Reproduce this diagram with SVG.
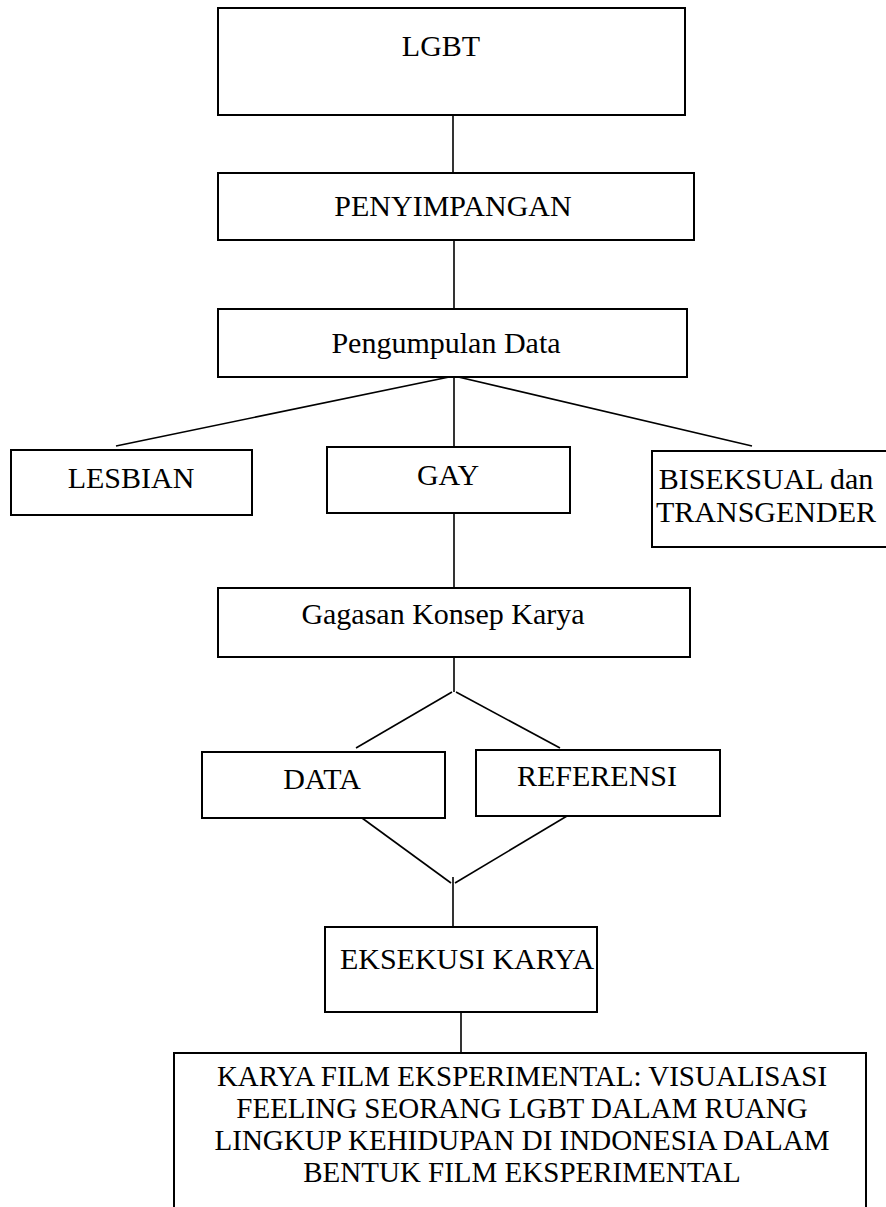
<svg xmlns="http://www.w3.org/2000/svg" width="886" height="1207" viewBox="0 0 886 1207">
<style>
.box{fill:#fff;stroke:#000;stroke-width:2}
.ln{stroke:#000;stroke-width:1.6;fill:none}
text{font-family:"Liberation Serif","Times New Roman",serif;font-size:30px;fill:#000;text-anchor:middle}
.sm{font-size:29px}
</style>
<rect width="886" height="1207" fill="#fff"/>
<g id="connectors">
<line class="ln" x1="453" y1="115" x2="453" y2="173"/>
<line class="ln" x1="454" y1="240" x2="454" y2="308"/>
<line class="ln" x1="454" y1="376" x2="116" y2="446"/>
<line class="ln" x1="454" y1="376" x2="454" y2="446"/>
<line class="ln" x1="454" y1="376" x2="752" y2="446"/>
<line class="ln" x1="454" y1="512" x2="454" y2="588"/>
<line class="ln" x1="454" y1="657" x2="454" y2="692"/>
<line class="ln" x1="452" y1="692" x2="356" y2="748"/>
<line class="ln" x1="456" y1="692" x2="560" y2="748"/>
<line class="ln" x1="362" y1="818" x2="451" y2="883"/>
<line class="ln" x1="567" y1="816" x2="455" y2="883"/>
<line class="ln" x1="453" y1="877" x2="453" y2="927"/>
<line class="ln" x1="461" y1="1012" x2="461" y2="1053"/>
</g>
<g id="n-lgbt"><rect class="box" x="218" y="8" width="467" height="107"/><text x="441" y="56">LGBT</text></g>
<g id="n-penyimpangan"><rect class="box" x="218" y="173" width="476" height="67"/><text x="453" y="216">PENYIMPANGAN</text></g>
<g id="n-pengumpulan"><rect class="box" x="218" y="309" width="469" height="68"/><text x="446" y="353">Pengumpulan Data</text></g>
<g id="n-lesbian"><rect class="box" x="11" y="450" width="241" height="65"/><text x="131" y="488">LESBIAN</text></g>
<g id="n-gay"><rect class="box" x="327" y="447" width="243" height="66"/><text x="448" y="485">GAY</text></g>
<g id="n-biseksual"><rect class="box" x="652" y="451" width="240" height="96"/><text x="766" y="489">BISEKSUAL dan</text><text x="766" y="522">TRANSGENDER</text></g>
<g id="n-gagasan"><rect class="box" x="218" y="588" width="472" height="69"/><text x="443" y="624">Gagasan Konsep Karya</text></g>
<g id="n-data"><rect class="box" x="202" y="752" width="243" height="66"/><text x="322" y="789">DATA</text></g>
<g id="n-referensi"><rect class="box" x="476" y="750" width="244" height="66"/><text x="597" y="786">REFERENSI</text></g>
<g id="n-eksekusi"><rect class="box" x="325" y="927" width="272" height="85"/><text x="467" y="969">EKSEKUSI KARYA</text></g>
<g id="n-karya"><rect class="box" x="174" y="1053" width="692" height="170"/>
<text class="sm" x="522" y="1086">KARYA FILM EKSPERIMENTAL: VISUALISASI</text>
<text class="sm" x="522" y="1118">FEELING SEORANG LGBT DALAM RUANG</text>
<text class="sm" x="522" y="1150">LINGKUP KEHIDUPAN DI INDONESIA DALAM</text>
<text class="sm" x="522" y="1182">BENTUK FILM EKSPERIMENTAL</text></g>
</svg>
